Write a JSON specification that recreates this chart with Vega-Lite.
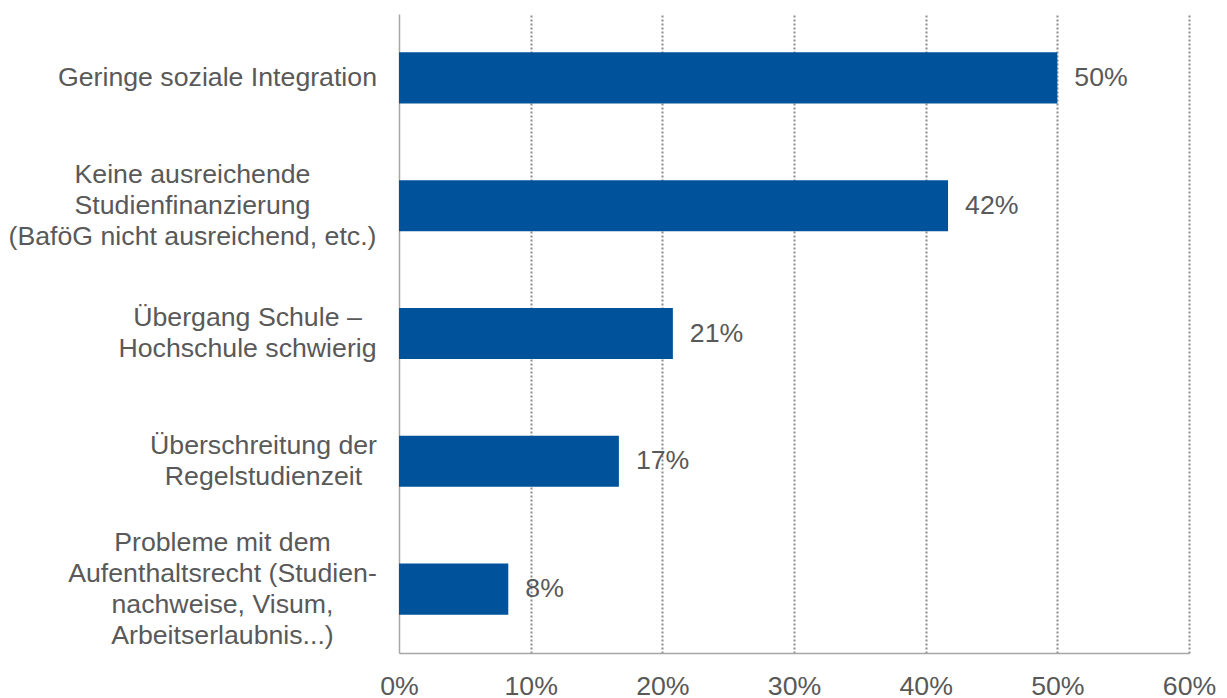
{
  "$schema": "https://vega.github.io/schema/vega-lite/v6.json",
  "width": 790,
  "height": 639,
  "autosize": {"type": "none"},
  "padding": {"left": 399, "top": 14, "right": 38, "bottom": 45},
  "background": "white",
  "config": {"view": {"stroke": null}, "font": "Liberation Sans"},
  "data": {
    "values": [
      {"reason": "Geringe soziale Integration", "share": 0.5},
      {"reason": "Keine ausreichende|Studienfinanzierung|(BaföG nicht ausreichend, etc.)", "share": 0.417},
      {"reason": "Übergang Schule –|Hochschule schwierig", "share": 0.208},
      {"reason": "Überschreitung der|Regelstudienzeit", "share": 0.167},
      {"reason": "Probleme mit dem|Aufenthaltsrecht (Studien-|nachweise, Visum,|Arbeitserlaubnis...)", "share": 0.083}
    ]
  },
  "encoding": {
    "y": {
      "field": "reason",
      "type": "nominal",
      "sort": null,
      "scale": {"paddingInner": 0.6, "paddingOuter": 0.3},
      "axis": {
        "title": null,
        "domain": true,
        "domainColor": "#a6a6a6",
        "domainWidth": 1.5,
        "ticks": false,
        "grid": false,
        "labelFont": "Liberation Sans",
        "labelFontSize": 26.7,
        "labelColor": "#595959",
        "labelLimit": 600,
        "labelLineHeight": 31,
        "labelAlign": "center",
        "labelBaseline": "middle",
        "labelExpr": "split(datum.label, '|')",
        "labelPadding": {
          "condition": [
            {"test": "indexof(datum.value, 'Geringe') >= 0", "value": 182},
            {"test": "indexof(datum.value, 'Keine') >= 0", "value": 207},
            {"test": "indexof(datum.value, 'Übergang') >= 0", "value": 152},
            {"test": "indexof(datum.value, 'Überschreitung') >= 0", "value": 136}
          ],
          "value": 177
        },
        "labelOffset": {
          "condition": [
            {"test": "indexof(datum.value, 'Geringe') >= 0", "value": 0},
            {"test": "indexof(datum.value, 'Keine') >= 0", "value": -31},
            {"test": "indexof(datum.value, 'Übergang') >= 0", "value": -15.5},
            {"test": "indexof(datum.value, 'Überschreitung') >= 0", "value": -15.5}
          ],
          "value": -46.5
        }
      }
    },
    "x": {
      "field": "share",
      "type": "quantitative",
      "scale": {"domain": [0, 0.6]},
      "axis": {
        "title": null,
        "values": [0, 0.1, 0.2, 0.3, 0.4, 0.5, 0.6],
        "format": ".0%",
        "domainColor": "#a6a6a6",
        "domainWidth": 1.5,
        "ticks": false,
        "grid": true,
        "gridColor": "#8c8c8c",
        "gridDash": [2, 2],
        "gridWidth": 2,
        "gridOpacity": {"condition": {"test": "datum.value === 0", "value": 0}, "value": 1},
        "labelFont": "Liberation Sans",
        "labelFontSize": 26.7,
        "labelColor": "#595959",
        "labelPadding": 20,
        "labelFlush": false
      }
    }
  },
  "layer": [
    {"mark": {"type": "bar", "color": "#00529B"}},
    {
      "mark": {"type": "text", "align": "left", "baseline": "middle", "dx": 17, "font": "Liberation Sans", "fontSize": 26.7, "color": "#595959"},
      "encoding": {"text": {"field": "share", "format": ".0%"}}
    }
  ]
}
